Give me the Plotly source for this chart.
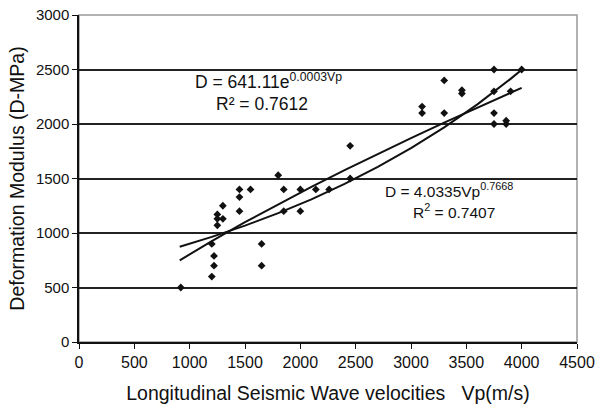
import plotly.graph_objects as go

# Measured points (Vp in m/s, D in MPa)
vp = [920, 1200, 1220, 1220, 1200, 1250, 1250, 1300, 1250, 1300,
      1450, 1450, 1450, 1550, 1650, 1650, 1800, 1850, 1850, 2000,
      2000, 2140, 2260, 2450, 2450, 3100, 3100, 3300, 3300, 3460,
      3460, 3750, 3750, 3750, 3750, 3860, 3860, 3900, 4000]
dm = [500, 600, 700, 790, 900, 1070, 1130, 1130, 1170, 1250,
      1200, 1330, 1400, 1400, 700, 900, 1530, 1400, 1200, 1400,
      1200, 1400, 1400, 1800, 1500, 2160, 2100, 2400, 2100, 2280,
      2310, 2500, 2300, 2100, 2000, 2000, 2030, 2300, 2500]

# Trend lines
trend_x = [910, 1200, 1500, 1800, 2100, 2400, 2700, 3000, 3300, 3600, 3900, 4000]
exp_y = [874, 964, 1068, 1182, 1309, 1450, 1606, 1778, 1969, 2180, 2414, 2498]
pow_y = [749, 926, 1099, 1264, 1423, 1576, 1725, 1870, 2012, 2151, 2287, 2332]

x_ticks = [0, 500, 1000, 1500, 2000, 2500, 3000, 3500, 4000, 4500]
y_ticks = [0, 500, 1000, 1500, 2000, 2500, 3000]

FONT = "Liberation Sans, Arial, sans-serif"

fig = go.Figure()
fig.add_trace(go.Scatter(x=trend_x, y=exp_y, mode="lines",
                         line=dict(color="#111111", width=2), hoverinfo="skip"))
fig.add_trace(go.Scatter(x=trend_x, y=pow_y, mode="lines",
                         line=dict(color="#111111", width=2), hoverinfo="skip"))
fig.add_trace(go.Scatter(x=vp, y=dm, mode="markers",
                         marker=dict(symbol="diamond", size=6, color="#111111")))

fig.add_shape(type="rect", xref="paper", yref="paper", x0=0, y0=0, x1=1, y1=1,
              line=dict(color="#999999", width=1.5), layer="below")

def label(x, y, text, size):
    fig.add_annotation(x=x, y=y, xref="x", yref="y", showarrow=False, text=text,
                       font=dict(family=FONT, size=size, color="#111111"))

label(1716, 2395, "D = 641.11e<sup>0.0003Vp</sup>", 17.5)
label(1653, 2185, "R\u00b2 = 0.7612", 17.5)
label(3345, 1395, "D = 4.0335Vp<sup>0.7668</sup>", 15.5)
label(3390, 1205, "R<sup>2</sup> = 0.7407", 15.5)

fig.update_layout(
    width=600, height=409,
    margin=dict(l=79, r=23, t=15, b=67, autoexpand=False),
    paper_bgcolor="white", plot_bgcolor="white",
    showlegend=False,
    font=dict(family=FONT, color="#111111"),
    xaxis=dict(range=[0, 4500], tickvals=x_ticks, ticktext=[str(v) for v in x_ticks],
               showgrid=False, zeroline=False, showline=True, linecolor="#111111",
               linewidth=1.5, ticks="outside", ticklen=5, tickcolor="#111111",
               tickfont=dict(size=16, family=FONT), automargin=False,
               title=dict(text="Longitudinal Seismic Wave velocities   Vp(m/s)",
                          font=dict(size=19.5, family=FONT), standoff=16)),
    yaxis=dict(range=[0, 3000], tickvals=y_ticks, ticktext=[str(v) for v in y_ticks],
               showgrid=True, gridcolor="#222222", gridwidth=1.5, zeroline=False,
               showline=True, linecolor="#111111", linewidth=1.5,
               ticks="outside", ticklen=5, tickcolor="#111111",
               tickfont=dict(size=15, family=FONT), automargin=False,
               title=dict(text="Deformation Modulus (D-MPa)",
                          font=dict(size=19.5, family=FONT), standoff=6)),
)

fig.write_html("out.html")
